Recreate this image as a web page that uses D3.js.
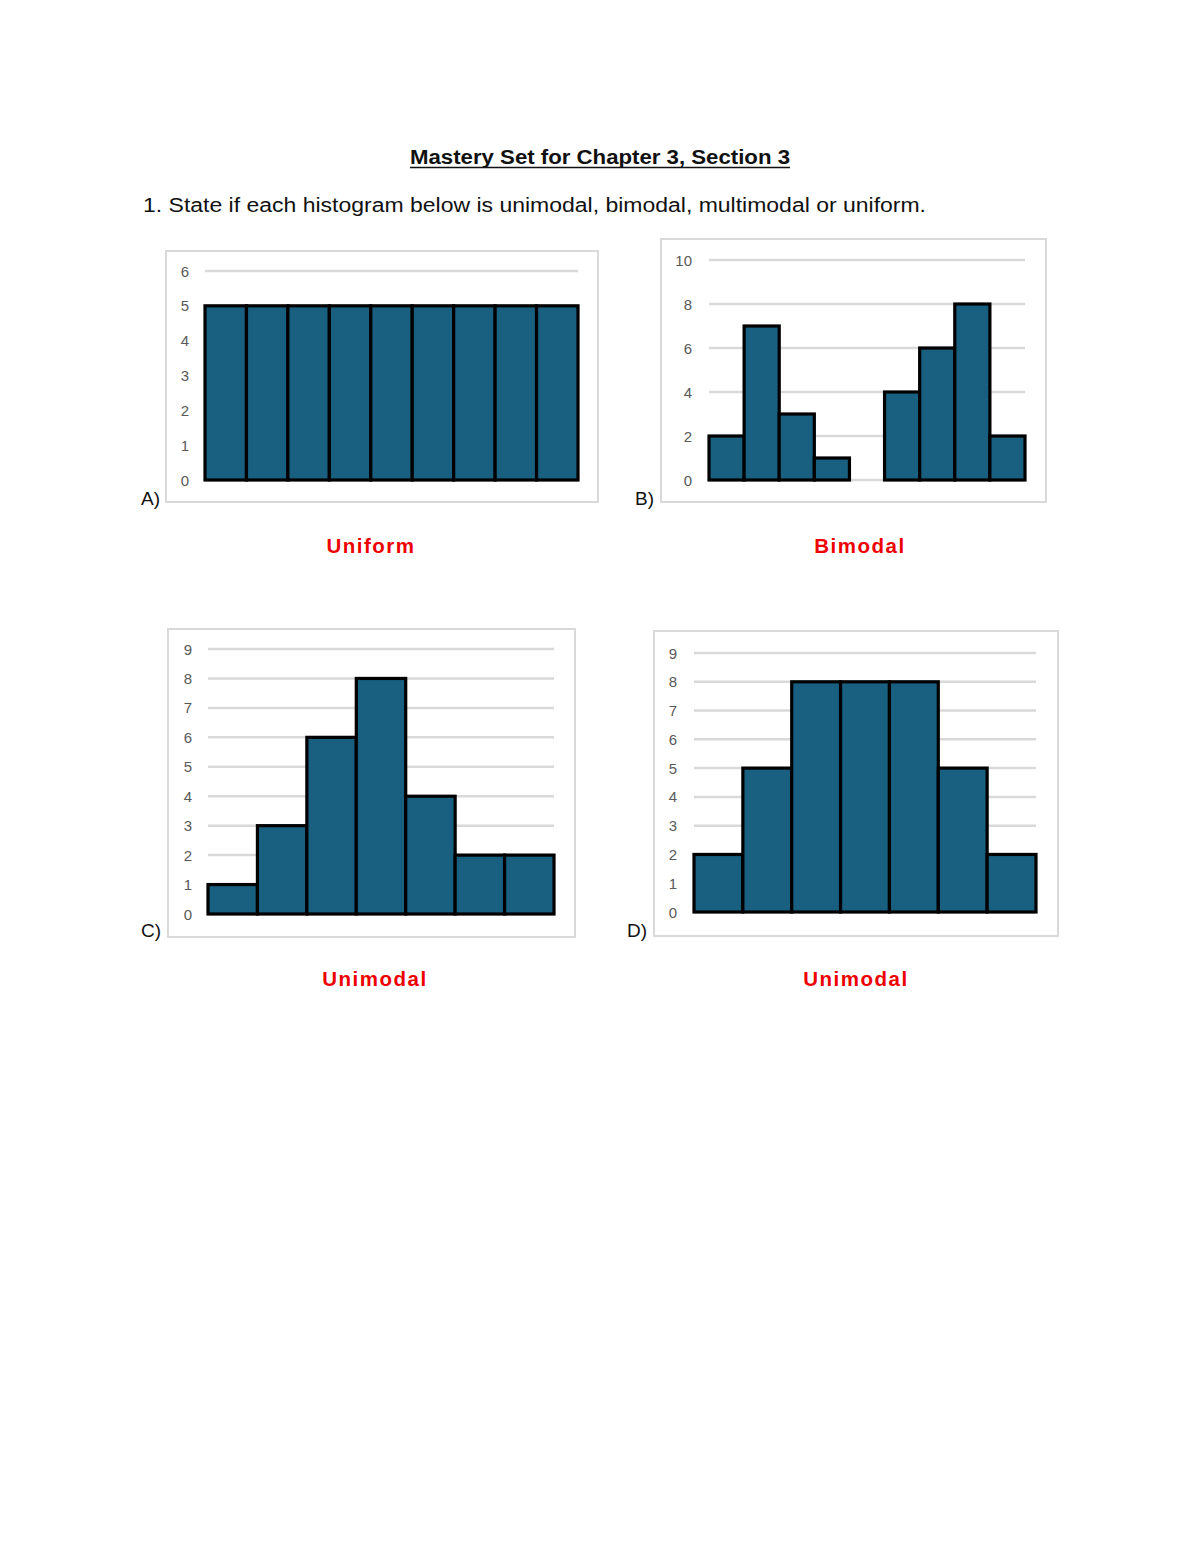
<!DOCTYPE html>
<html>
<head>
<meta charset="utf-8">
<script src="https://cdn.jsdelivr.net/npm/d3@7"></script>
<style>
  body { margin: 0; background: #fff; }
  svg { display: block; }
</style>
</head>
<body>
<div id="page"></div>
<script>
/* histogram values, one array per chart */
var valuesA = [5, 5, 5, 5, 5, 5, 5, 5, 5];
var valuesB = [2, 7, 3, 1, 0, 4, 6, 8, 2];
var valuesC = [1, 3, 6, 8, 4, 2, 2];
var valuesD = [2, 5, 8, 8, 8, 5, 2];

/* y tick labels */
var ticksA = [0, 1, 2, 3, 4, 5, 6];
var ticksB = [0, 2, 4, 6, 8, 10];
var ticksC = [0, 1, 2, 3, 4, 5, 6, 7, 8, 9];
var ticksD = [0, 1, 2, 3, 4, 5, 6, 7, 8, 9];

var answers = ["Uniform", "Bimodal", "Unimodal", "Unimodal"];
var letters = ["A)", "B)", "C)", "D)"];

var titleText = "Mastery Set for Chapter 3, Section 3";
var questionText = "1. State if each histogram below is unimodal, bimodal, multimodal or uniform.";

var W = 1200, H = 1553;
var barFill = "#185f80";
var gridColor = "#d9d9d9";
var font = "'Liberation Sans', Arial, sans-serif";

/* layout of each panel: frame box, plot box, label spots */
var panels = [
  { vals: valuesA, ticks: ticksA, frame: [166, 251, 598, 502], plot: [205, 271, 578, 480], tickX: 189,
    letter: [141, 505], answer: [371, 553] },
  { vals: valuesB, ticks: ticksB, frame: [661, 239, 1046, 502], plot: [709, 260, 1025, 480], tickX: 692,
    letter: [635, 505], answer: [860, 553] },
  { vals: valuesC, ticks: ticksC, frame: [168, 629, 575, 937], plot: [208, 649, 554, 914], tickX: 192,
    letter: [141, 937], answer: [375, 986] },
  { vals: valuesD, ticks: ticksD, frame: [654, 631, 1058, 936], plot: [694, 653, 1036, 912], tickX: 677,
    letter: [627, 937], answer: [856, 986] }
];

var svg = d3.select("#page").append("svg")
  .attr("width", W)
  .attr("height", H)
  .style("background", "#fff");

// title, underlined
svg.append("text")
  .attr("x", 600).attr("y", 164)
  .attr("text-anchor", "middle")
  .attr("font-family", font)
  .attr("font-size", 20)
  .attr("font-weight", "bold")
  .attr("textLength", 380)
  .attr("lengthAdjust", "spacingAndGlyphs")
  .attr("fill", "#111")
  .text(titleText);
svg.append("line")
  .attr("x1", 410).attr("x2", 790)
  .attr("y1", 167.5).attr("y2", 167.5)
  .attr("stroke", "#111").attr("stroke-width", 1.5);

svg.append("text")
  .attr("x", 143).attr("y", 212)
  .attr("font-family", font)
  .attr("font-size", 20)
  .attr("textLength", 783)
  .attr("lengthAdjust", "spacingAndGlyphs")
  .attr("fill", "#111")
  .text(questionText);

panels.forEach(function(p, k) {
  var g = svg.append("g");

  // chart frame
  g.append("rect")
    .attr("x", p.frame[0]).attr("y", p.frame[1])
    .attr("width", p.frame[2] - p.frame[0])
    .attr("height", p.frame[3] - p.frame[1])
    .attr("fill", "#fff")
    .attr("stroke", gridColor)
    .attr("stroke-width", 2);

  var x = d3.scaleBand()
    .domain(d3.range(p.vals.length))
    .range([p.plot[0], p.plot[2]])
    .padding(0);

  var y = d3.scaleLinear()
    .domain([0, d3.max(p.ticks)])
    .range([p.plot[3], p.plot[1]]);

  // gridlines
  g.selectAll(".grid")
    .data(p.ticks)
    .enter().append("line")
    .attr("class", "grid")
    .attr("x1", p.plot[0]).attr("x2", p.plot[2])
    .attr("y1", function(d) { return y(d); })
    .attr("y2", function(d) { return y(d); })
    .attr("stroke", gridColor)
    .attr("stroke-width", 2.5);

  // tick labels
  g.selectAll(".tick")
    .data(p.ticks)
    .enter().append("text")
    .attr("class", "tick")
    .attr("x", p.tickX)
    .attr("y", function(d) { return y(d) + 5.5; })
    .attr("text-anchor", "end")
    .attr("font-family", font)
    .attr("font-size", 15)
    .attr("fill", "#595959")
    .text(function(d) { return d; });

  // bars (skip the empty bin)
  g.selectAll(".bar")
    .data(p.vals.map(function(v, i) { return { v: v, i: i }; }).filter(function(d) { return d.v > 0; }))
    .enter().append("rect")
    .attr("class", "bar")
    .attr("x", function(d) { return x(d.i); })
    .attr("y", function(d) { return y(d.v); })
    .attr("width", x.bandwidth())
    .attr("height", function(d) { return y(0) - y(d.v); })
    .attr("fill", barFill)
    .attr("stroke", "#000")
    .attr("stroke-width", 3.2);

  // panel letter
  svg.append("text")
    .attr("x", p.letter[0]).attr("y", p.letter[1])
    .attr("font-family", font)
    .attr("font-size", 19)
    .attr("fill", "#111")
    .text(letters[k]);

  // answer in red
  svg.append("text")
    .attr("x", p.answer[0]).attr("y", p.answer[1])
    .attr("text-anchor", "middle")
    .attr("font-family", font)
    .attr("font-size", 20.5)
    .attr("font-weight", "bold")
    .attr("letter-spacing", 1.5)
    .attr("fill", "#ee0000")
    .text(answers[k]);
});
</script>
</body>
</html>
